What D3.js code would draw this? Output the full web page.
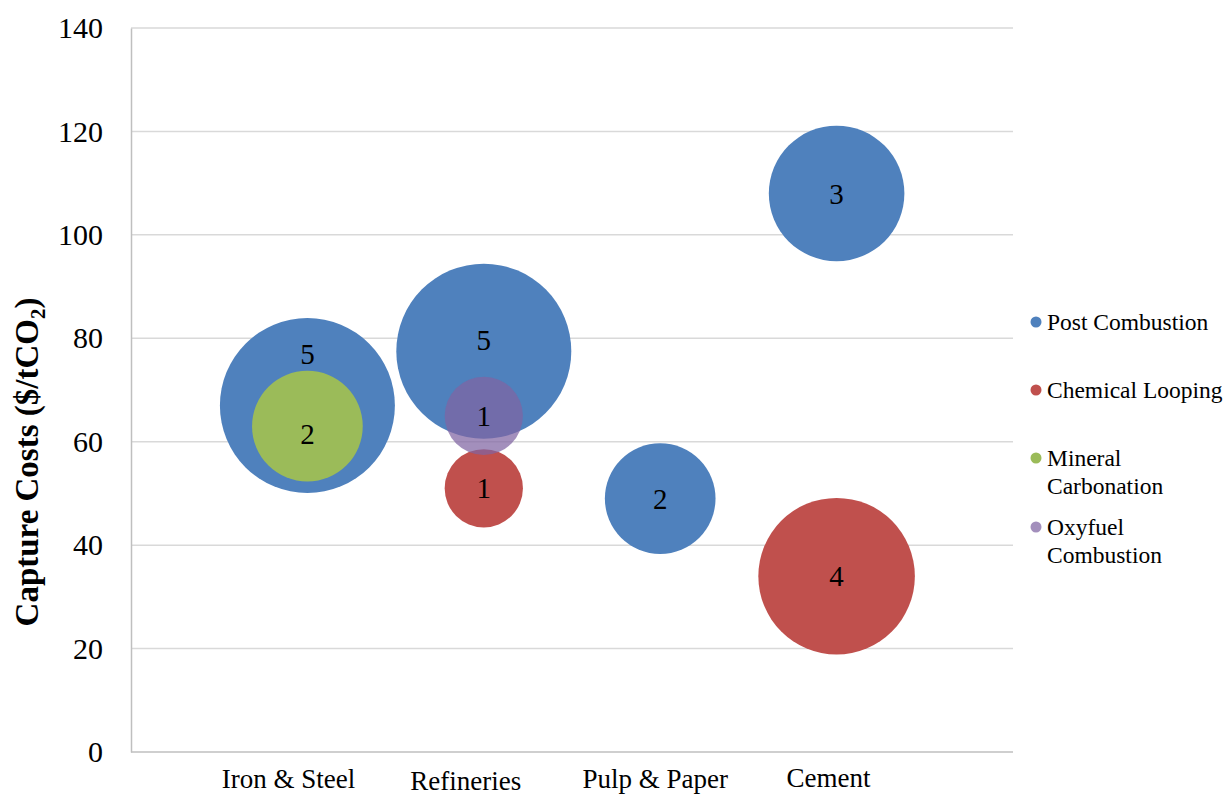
<!DOCTYPE html>
<html>
<head>
<meta charset="utf-8">
<script src="https://cdn.jsdelivr.net/npm/d3@7"></script>
<style>
  html, body { margin: 0; padding: 0; background: #fff; }
  svg { display: block; }
</style>
</head>
<body>
<svg id="chart" width="1227" height="794"></svg>
<script>
// Industry sectors on the x axis (positions 1..4)
const categories = ["Iron & Steel", "Refineries", "Pulp & Paper", "Cement"];
const seriesNames = ["Post Combustion", "Chemical Looping", "Mineral Carbonation", "Oxyfuel Combustion"];
const seriesColors = ["#4F81BD", "#C0504D", "#9BBB59", "#8064A2"];

// Per series: sector index, capture cost ($/tCO2), number of studies (bubble size)
const postCombustionSector = [0, 1, 2, 3];
const postCombustionCost   = [67, 77.5, 49, 108];
const postCombustionCount  = [5, 5, 2, 3];

const chemLoopingSector = [1, 3];
const chemLoopingCost   = [51, 34];
const chemLoopingCount  = [1, 4];

const mineralSector = [0];
const mineralCost   = [63];
const mineralCount  = [2];

const oxyfuelSector = [1];
const oxyfuelCost   = [65];
const oxyfuelCount  = [1];

const yTicks = [0, 20, 40, 60, 80, 100, 120, 140];

const FONT = "Liberation Serif";

const series = [
  { sector: postCombustionSector, cost: postCombustionCost, count: postCombustionCount },
  { sector: chemLoopingSector, cost: chemLoopingCost, count: chemLoopingCount },
  { sector: mineralSector, cost: mineralCost, count: mineralCount },
  { sector: oxyfuelSector, cost: oxyfuelCost, count: oxyfuelCount }
].map((s, i) => ({
  name: seriesNames[i],
  color: seriesColors[i],
  points: s.sector.map((c, j) => ({ sector: c, cost: s.cost[j], count: s.count[j], series: i }))
}));

const svg = d3.select("#chart").attr("font-family", FONT);
const plot = { left: 131, right: 1013, top: 28, bottom: 752 };

const x = d3.scaleLinear().domain([0, 5]).range([plot.left, plot.right]);
const y = d3.scaleLinear().domain([0, 140]).range([plot.bottom, plot.top]);
const r = d3.scaleSqrt().domain([0, 5]).range([0, 87.5]);

// Horizontal gridlines
svg.append("g")
  .selectAll("line")
  .data(yTicks.filter(t => t > 0))
  .join("line")
  .attr("x1", plot.left).attr("x2", plot.right)
  .attr("y1", d => y(d)).attr("y2", d => y(d))
  .attr("stroke", "#d9d9d9").attr("stroke-width", 1.5);

// Y axis
const yAxis = svg.append("g")
  .attr("transform", `translate(${plot.left},0)`)
  .call(d3.axisLeft(y).tickValues(yTicks).tickSize(0).tickPadding(28));
yAxis.attr("font-family", FONT).attr("font-size", 30);
yAxis.select(".domain").attr("stroke", "#bfbfbf").attr("stroke-width", 1.5);
yAxis.selectAll("text").attr("fill", "#000");

// X axis line
svg.append("line")
  .attr("x1", plot.left).attr("x2", plot.right)
  .attr("y1", plot.bottom).attr("y2", plot.bottom)
  .attr("stroke", "#bfbfbf").attr("stroke-width", 1.5);

// Sector labels below the axis (baselines and slight horizontal nudges per label)
const catNudge = [-19, -18, -5, -8];
const catBaseline = [788, 790, 788, 787];
svg.append("g")
  .selectAll("text")
  .data(categories)
  .join("text")
  .attr("x", (d, i) => x(i + 1) + catNudge[i])
  .attr("y", (d, i) => catBaseline[i])
  .attr("text-anchor", "middle")
  .attr("font-size", 27)
  .text(d => d);

// Y axis title
svg.append("text")
  .attr("transform", "translate(38,462) rotate(-90)")
  .attr("text-anchor", "middle")
  .attr("font-size", 33)
  .attr("font-weight", "bold")
  .call(t => {
    t.append("tspan").text("Capture Costs ($/tCO");
    t.append("tspan").attr("font-size", 21).attr("dy", 7).text("2");
    t.append("tspan").attr("dy", -7).text(")");
  });

// Bubbles
const bubbles = svg.append("g");
series.forEach(s => {
  bubbles.append("g")
    .selectAll("circle")
    .data(s.points)
    .join("circle")
    .attr("cx", d => x(d.sector + 1))
    .attr("cy", d => y(d.cost))
    .attr("r", d => r(d.count))
    .attr("fill", s.color)
    .attr("fill-opacity", s.name === "Oxyfuel Combustion" ? 0.72 : 1);
});

// Bubble labels (count of studies); some shifted to avoid overlaps
const labelShift = { "0-0": -52, "0-1": -11, "2-0": 8 };
const labels = svg.append("g");
series.forEach((s, si) => {
  labels.append("g")
    .selectAll("text")
    .data(s.points)
    .join("text")
    .attr("x", d => x(d.sector + 1))
    .attr("y", d => y(d.cost) + (labelShift[`${si}-${d.sector}`] || 0))
    .attr("dy", "0.35em")
    .attr("text-anchor", "middle")
    .attr("font-size", 29)
    .text(d => d.count);
});

// Legend
const legendRows = [
  { lines: ["Post Combustion"], y: 322 },
  { lines: ["Chemical Looping"], y: 390 },
  { lines: ["Mineral", "Carbonation"], y: 458 },
  { lines: ["Oxyfuel", "Combustion"], y: 527 }
];
const legend = svg.append("g");
legendRows.forEach((row, i) => {
  legend.append("circle")
    .attr("cx", 1036).attr("cy", row.y).attr("r", 5.5)
    .attr("fill", seriesColors[i])
    .attr("fill-opacity", i === 3 ? 0.72 : 1);
  const t = legend.append("text")
    .attr("x", 1047).attr("y", row.y)
    .attr("font-size", 23.5);
  row.lines.forEach((ln, k) => {
    t.append("tspan").attr("x", 1047).attr("dy", k === 0 ? "0.35em" : 28).text(ln);
  });
});
</script>
</body>
</html>
